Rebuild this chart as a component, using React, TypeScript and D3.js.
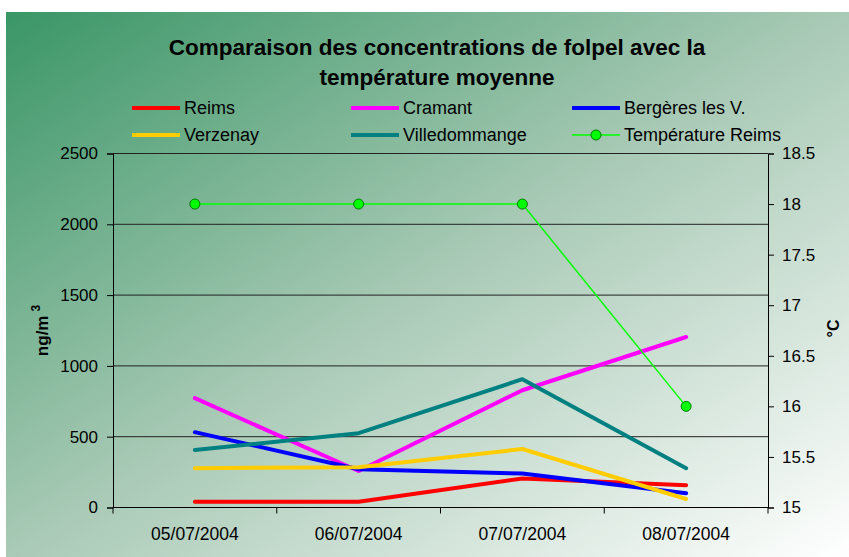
import React, { useEffect, useRef } from "react";
import * as d3 from "d3";

const dates = ["05/07/2004", "06/07/2004", "07/07/2004", "08/07/2004"];

const reims = [40, 40, 205, 158];
const cramant = [772, 258, 828, 1204];
const bergeres = [532, 270, 240, 100];
const verzenay = [277, 285, 413, 60];
const villedommange = [406, 525, 906, 277];
const tempReims = [18, 18, 18, 16];

const leftTicks = [0, 500, 1000, 1500, 2000, 2500];
const rightTicks = [15, 15.5, 16, 16.5, 17, 17.5, 18, 18.5];

const concSeries = [
  { name: "Reims", values: reims, color: "#ff0000" },
  { name: "Cramant", values: cramant, color: "#ff00ff" },
  { name: "Bergères les V.", values: bergeres, color: "#0000ff" },
  { name: "Verzenay", values: verzenay, color: "#ffcc00" },
  { name: "Villedommange", values: villedommange, color: "#008080" },
];

const W = 849;
const H = 557;
const FONT = "'Liberation Sans', Arial, sans-serif";

const App = () => {
  const svgRef = useRef<SVGSVGElement>(null);

  useEffect(() => {
    const svg = d3.select(svgRef.current);
    svg.selectAll("*").remove();

    const plot = { left: 113, right: 768, top: 153.5, bottom: 507.5 };

    // Background gradient
    const defs = svg.append("defs");
    const grad = defs
      .append("linearGradient")
      .attr("id", "bg")
      .attr("x1", 0)
      .attr("y1", 0)
      .attr("x2", 1)
      .attr("y2", 1);
    grad.append("stop").attr("offset", "0%").attr("stop-color", "#3a9666");
    grad.append("stop").attr("offset", "50%").attr("stop-color", "#a9cab6");
    grad.append("stop").attr("offset", "100%").attr("stop-color", "#ffffff");

    svg.append("rect").attr("width", W).attr("height", H).attr("fill", "#ffffff");
    svg
      .append("rect")
      .attr("x", 6)
      .attr("y", 12)
      .attr("width", W - 6)
      .attr("height", H - 12)
      .attr("fill", "url(#bg)");

    const x = d3
      .scaleBand()
      .domain(dates)
      .range([plot.left, plot.right]);

    const y = d3.scaleLinear().domain([0, 2500]).range([plot.bottom, plot.top]);
    const y2 = d3.scaleLinear().domain([15, 18.5]).range([plot.bottom, plot.top]);

    // Grid
    svg
      .append("g")
      .selectAll("line")
      .data(leftTicks.slice(1))
      .enter()
      .append("line")
      .attr("x1", plot.left)
      .attr("x2", plot.right)
      .attr("y1", (d) => y(d))
      .attr("y2", (d) => y(d))
      .attr("stroke", "#222")
      .attr("stroke-width", 1);

    // Left axis
    const leftAxis = svg
      .append("g")
      .attr("transform", `translate(${plot.left},0)`)
      .call(
        d3
          .axisLeft(y)
          .tickValues(leftTicks)
          .tickSize(6)
          .tickPadding(9)
          .tickFormat(d3.format("d"))
      );
    leftAxis.select(".domain").attr("stroke", "#000");
    leftAxis.selectAll("line").attr("stroke", "#000");
    leftAxis
      .selectAll("text")
      .attr("fill", "#000")
      .style("font-family", FONT)
      .style("font-size", "17px");

    // Right axis
    const rightAxis = svg
      .append("g")
      .attr("transform", `translate(${plot.right},0)`)
      .call(
        d3
          .axisRight(y2)
          .tickValues(rightTicks)
          .tickSize(6)
          .tickPadding(8)
          .tickFormat((d) => String(d))
      );
    rightAxis.select(".domain").attr("stroke", "#000");
    rightAxis.selectAll("line").attr("stroke", "#000");
    rightAxis
      .selectAll("text")
      .attr("fill", "#000")
      .style("font-family", FONT)
      .style("font-size", "17px");

    // Bottom axis
    const bottom = svg.append("g");
    bottom
      .append("line")
      .attr("x1", plot.left)
      .attr("x2", plot.right)
      .attr("y1", plot.bottom)
      .attr("y2", plot.bottom)
      .attr("stroke", "#000");
    const bounds = dates.map((d) => x(d) as number).concat([plot.right]);
    bottom
      .selectAll(".tk")
      .data(bounds)
      .enter()
      .append("line")
      .attr("x1", (d) => d)
      .attr("x2", (d) => d)
      .attr("y1", plot.bottom)
      .attr("y2", plot.bottom + 6)
      .attr("stroke", "#000");
    bottom
      .selectAll("text")
      .data(dates)
      .enter()
      .append("text")
      .attr("x", (d) => (x(d) as number) + x.bandwidth() / 2)
      .attr("y", plot.bottom + 32)
      .attr("text-anchor", "middle")
      .style("font-family", FONT)
      .style("font-size", "17.5px")
      .text((d) => d);

    const cx = (i: number) => (x(dates[i]) as number) + x.bandwidth() / 2;

    // Concentration lines
    const line = d3
      .line<number>()
      .x((_, i) => cx(i))
      .y((d) => y(d));
    svg
      .append("g")
      .selectAll("path")
      .data(concSeries)
      .enter()
      .append("path")
      .attr("d", (s) => line(s.values))
      .attr("fill", "none")
      .attr("stroke", (s) => s.color)
      .attr("stroke-width", 4)
      .attr("stroke-linecap", "round")
      .attr("stroke-linejoin", "round");

    // Temperature line
    const tline = d3
      .line<number>()
      .x((_, i) => cx(i))
      .y((d) => y2(d));
    svg
      .append("path")
      .attr("d", tline(tempReims))
      .attr("fill", "none")
      .attr("stroke", "#00ff00")
      .attr("stroke-width", 1.5);
    svg
      .append("g")
      .selectAll("circle")
      .data(tempReims)
      .enter()
      .append("circle")
      .attr("cx", (_, i) => cx(i))
      .attr("cy", (d) => y2(d))
      .attr("r", 5)
      .attr("fill", "#00ff00")
      .attr("stroke", "#007a00")
      .attr("stroke-width", 1);

    // Title
    const title = svg
      .append("text")
      .attr("text-anchor", "middle")
      .style("font-family", FONT)
      .style("font-size", "22.5px")
      .style("font-weight", "bold");
    title.append("tspan").attr("x", 437).attr("y", 55).text("Comparaison des concentrations de folpel avec la");
    title.append("tspan").attr("x", 437).attr("y", 85).text("température moyenne");

    // Axis titles
    const yl = svg
      .append("text")
      .attr("transform", `translate(48,${(plot.top + plot.bottom) / 2}) rotate(-90)`)
      .attr("text-anchor", "middle")
      .style("font-family", FONT)
      .style("font-size", "17px")
      .style("font-weight", "bold");
    yl.append("tspan").text("ng/m");
    yl.append("tspan").attr("dy", -8).attr("dx", 4).style("font-size", "12px").text("3");

    svg
      .append("text")
      .attr("transform", `translate(839,${(plot.top + plot.bottom) / 2 - 2}) rotate(-90)`)
      .attr("text-anchor", "middle")
      .style("font-family", FONT)
      .style("font-size", "16px")
      .style("font-weight", "bold")
      .text("°C");

    // Legend
    const legendItems = [
      ...concSeries.map((s) => ({ name: s.name, color: s.color, marker: false })),
      { name: "Température Reims", color: "#00ff00", marker: true },
    ];
    const colX = [132, 351, 572];
    const rowY = [108, 135];
    const lg = svg
      .append("g")
      .selectAll("g")
      .data(legendItems)
      .enter()
      .append("g")
      .attr("transform", (_, i) => `translate(${colX[i % 3]},${rowY[Math.floor(i / 3)]})`);
    lg.append("line")
      .attr("x1", 0)
      .attr("x2", 48)
      .attr("stroke", (d) => d.color)
      .attr("stroke-width", (d) => (d.marker ? 1.5 : 4));
    lg.filter((d) => d.marker)
      .append("circle")
      .attr("cx", 24)
      .attr("r", 5)
      .attr("fill", "#00ff00")
      .attr("stroke", "#007a00");
    lg.append("text")
      .attr("x", 52)
      .attr("dy", "0.35em")
      .style("font-family", FONT)
      .style("font-size", "18px")
      .text((d) => d.name);
  }, []);

  return (
    <div style={{ position: "absolute", left: 0, top: 0 }}>
      <svg ref={svgRef} width={W} height={H} style={{ display: "block" }} />
    </div>
  );
};

export default App;
